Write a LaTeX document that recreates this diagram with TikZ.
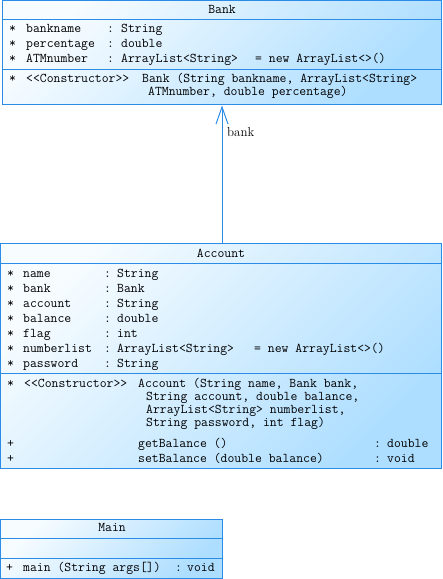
\documentclass[tikz,border=0pt]{standalone}
\usetikzlibrary{arrows.meta}
\definecolor{umlblue}{HTML}{2A8CE6}
\definecolor{umlfill}{HTML}{ADDEFF}
\newcommand{\umlfont}{\ttfamily\fontsize{13.4}{15}\selectfont}
\tikzset{
  umlbox/.style={draw=umlblue, line width=1bp, inner sep=0pt,
    top color=umlfill!10, bottom color=umlfill, shading angle=45},
  umlline/.style={draw=umlblue, line width=1bp},
  txt/.style={anchor=base west, inner sep=0pt, font=\umlfont},
  ttl/.style={anchor=base, inner sep=0pt, font=\umlfont},
}
\begin{document}
\begin{tikzpicture}[x=1bp,y=-1bp]
  \useasboundingbox (0,0) rectangle (443,579);

  % Bank
  \node[umlbox, minimum width=438bp, minimum height=104bp] (bank) at (222,53) {};
  \draw[umlline] (3,20) -- (441,20);
  \draw[umlline] (3,70) -- (441,70);
  \node[ttl] (banktitle) at (222,14) {Bank};
  \foreach \y/\n/\t in {33/bankname/String, 48/percentage/double, 63/ATMnumber/ArrayList<String>} {
    \node[txt] at (9,\y) {*};
    \node[txt] at (26,\y) {\n};
    \node[txt] at (107,\y) {:};
    \node[txt] at (121,\y) {\t};
  }
  \node[txt] (bankinit) at (255,63) {= new ArrayList<>()};
  \node[txt] at (9,83) {*};
  \node[txt] at (26,83) {<<Constructor>>};
  \node[txt] (bankctor) at (142,83) {Bank (String bankname, ArrayList<String>};
  \node[txt] at (148,96) {ATMnumber, double percentage)};

  % Account
  \node[umlbox, minimum width=440.5bp, minimum height=225bp] (account) at (220.75,355.5) {};
  \draw[umlline] (0.5,263) -- (441,263);
  \draw[umlline] (0.5,373) -- (441,373);
  \node[ttl] (accounttitle) at (221,257) {Account};
  \foreach \y/\n/\t in {277/name/String, 292/bank/Bank, 307/account/String,
      322/balance/double, 337/flag/int, 352/numberlist/ArrayList<String>, 367/password/String} {
    \node[txt] at (7,\y) {*};
    \node[txt] at (23,\y) {\n};
    \node[txt] at (104,\y) {:};
    \node[txt] at (117,\y) {\t};
  }
  \node[txt] (accountinit) at (254,352) {= new ArrayList<>()};
  \node[txt] at (7,387) {*};
  \node[txt] at (24,387) {<<Constructor>>};
  \node[txt] (accountctor) at (138,387) {Account (String name, Bank bank,};
  \node[txt] at (146,400) {String account, double balance,};
  \node[txt] at (146,413) {ArrayList<String> numberlist,};
  \node[txt] at (146,426) {String password, int flag)};
  \foreach \y/\n/\t in {447/getBalance ()/double, 462/setBalance (double balance)/void} {
    \node[txt] at (7,\y) {+};
    \node[txt] at (138,\y) {\n};
    \node[txt] at (374,\y) {:};
    \node[txt] at (387,\y) {\t};
  }

  % Main
  \node[umlbox, minimum width=221.5bp, minimum height=59bp] (main) at (111.25,548.5) {};
  \draw[umlline] (0.5,538) -- (222,538);
  \draw[umlline] (0.5,558) -- (222,558);
  \node[ttl] (maintitle) at (112,531) {Main};
  \node[txt] at (6,571) {+};
  \node[txt] (mainop) at (23,571) {main (String args[])};
  \node[txt] at (175,571) {:};
  \node[txt] at (187,571) {void};

  % association
  \draw[umlline, -{Straight Barb[length=17bp,width=12bp]}] (bank.south |- account.north) -- (bank.south);
  \node[anchor=west, inner sep=0pt, font=\fontsize{13}{15}\selectfont] (banklabel) at (227,132) {bank};
\end{tikzpicture}
\end{document}
